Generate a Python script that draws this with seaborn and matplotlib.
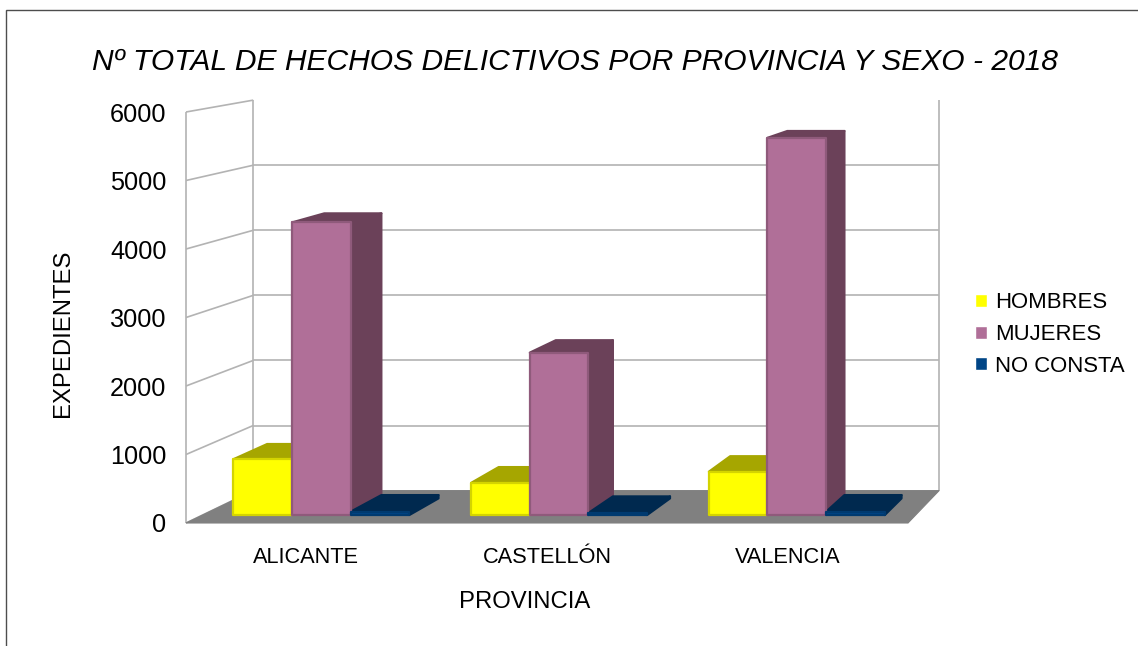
import matplotlib
matplotlib.use("Agg")
import matplotlib.pyplot as plt
import pandas as pd
import seaborn as sns
from matplotlib.patches import Polygon, Rectangle

provincias = ["ALICANTE", "CASTELLÓN", "VALENCIA"]
sexos = ["HOMBRES", "MUJERES", "NO CONSTA"]
hombres = [825, 475, 640]
mujeres = [4325, 2400, 5575]
no_consta = [50, 30, 50]
y_ticks = [0, 1000, 2000, 3000, 4000, 5000, 6000]

front_colors = ["#ffff00", "#b06f98", "#004586"]
edge_colors = ["#d4d400", "#8f5a7b", "#003a70"]
shade_colors = ["#a6a600", "#6b4159", "#00294f"]

W, H = 1138, 646
# fake perspective, everything goes towards this point (pixels, y down)
VP = (1530, -125)
K_WALL = 0.05
K_BAR_FRONT = 0.0123
K_BAR_DEPTH = 0.026

sns.set_theme(style="white", font="Liberation Sans")
plt.rcParams["font.family"] = ["Liberation Sans", "DejaVu Sans"]
plt.rcParams["text.color"] = "black"
plt.rcParams["xtick.color"] = "black"
plt.rcParams["ytick.color"] = "black"

df = pd.DataFrame({"provincia": provincias, "HOMBRES": hombres, "MUJERES": mujeres, "NO CONSTA": no_consta})
df = df.melt(id_vars="provincia", var_name="sexo", value_name="expedientes")


def shifted(px, k):
    return (px[0] + k * (VP[0] - px[0]), px[1] + k * (VP[1] - px[1]))


def axes_from_pixels(left, right, top, bottom):
    return fig.add_axes([left / W, 1 - bottom / H, (right - left) / W, (bottom - top) / H])


def back(ax, x, y, k):
    # data point -> same point pushed back in depth, in data coords
    dx, dy = ax.transData.transform((x, y))
    px = shifted((dx, H - dy), k)
    return ax.transData.inverted().transform((px[0], H - px[1]))


fig = plt.figure(figsize=(W / 100, H / 100), dpi=100)
fig.add_artist(Rectangle((6 / W, -0.1), 1.2, 1.1 - 10.5 / H, transform=fig.transFigure,
                         fill=False, edgecolor="#4d4d4d", linewidth=1.0))

wall_ax = axes_from_pixels(186, 908, 112, 523)
wall_ax.set_xlim(-0.5, 2.5)
wall_ax.set_ylim(0, 6000)
wall_ax.set_facecolor("none")
sns.despine(ax=wall_ax, left=True, bottom=True)

x0, x1 = -0.5, 2.5
floor = [(x0, 0), (x1, 0), back(wall_ax, x1, 0, K_WALL), back(wall_ax, x0, 0, K_WALL)]
wall_ax.add_patch(Polygon(floor, facecolor="#808080", edgecolor="#808080", lw=0.8, clip_on=False, zorder=2))
grid_kw = dict(color="#b3b3b3", lw=1.2, clip_on=False, zorder=1, solid_capstyle="butt")
for t in y_ticks:
    bl = back(wall_ax, x0, t, K_WALL)
    br = back(wall_ax, x1, t, K_WALL)
    wall_ax.plot([x0, bl[0]], [t, bl[1]], **grid_kw)
    if 0 < t < 6000:
        wall_ax.plot([bl[0], br[0]], [bl[1], br[1]], **grid_kw)
for x in [x0, x1]:
    b0 = back(wall_ax, x, 0, K_WALL)
    b1 = back(wall_ax, x, 6000, K_WALL)
    wall_ax.plot([b0[0], b1[0]], [b0[1], b1[1]], **grid_kw)
wall_ax.plot([x0, x0], [0, 6000], **grid_kw)

wall_ax.set_xticks(range(3))
wall_ax.set_xticklabels(provincias)
wall_ax.set_yticks(y_ticks)
wall_ax.tick_params(axis="y", labelsize=18.2, length=0, pad=14)
wall_ax.tick_params(axis="x", labelsize=15.7, length=0, pad=17)

bl = shifted((186, 523), K_BAR_FRONT)
tr = shifted((908, 112), K_BAR_FRONT)
bar_ax = axes_from_pixels(bl[0], tr[0], tr[1], bl[1])
sns.barplot(data=df, x="provincia", y="expedientes", hue="sexo", order=provincias, hue_order=sexos,
            palette=front_colors, width=0.74, saturation=1, ax=bar_ax)
bar_ax.set_xlim(-0.5, 2.5)
bar_ax.set_ylim(0, 6000)
bar_ax.set_facecolor("none")
bar_ax.axis("off")

for s, container in enumerate(bar_ax.containers):
    for bar in container:
        xa, xb = bar.get_x(), bar.get_x() + bar.get_width()
        top = bar.get_height()
        bar.set_edgecolor(edge_colors[s])
        bar.set_linewidth(1.6)
        bar.set_joinstyle("round")
        bar.set_zorder(3)
        bar.set_clip_on(False)
        tl_b = back(bar_ax, xa, top, K_BAR_DEPTH)
        tr_b = back(bar_ax, xb, top, K_BAR_DEPTH)
        br_b = back(bar_ax, xb, 0, K_BAR_DEPTH)
        for pts in ([(xa, top), (xb, top), tr_b, tl_b], [(xb, top), tr_b, br_b, (xb, 0)]):
            bar_ax.add_patch(Polygon(pts, facecolor=shade_colors[s], edgecolor=shade_colors[s], lw=1.6,
                                     joinstyle="round", clip_on=False, zorder=2))

sns.move_legend(bar_ax, "center left", bbox_to_anchor=(975 / W, 1 - 334.5 / H), bbox_transform=fig.transFigure,
                frameon=False, title=None, fontsize=15.9, handlelength=0.54, handleheight=0.54,
                handletextpad=0.36, labelspacing=0.48, borderpad=0, borderaxespad=0)

fig.text(575 / W, 1 - 62.5 / H, "Nº TOTAL DE HECHOS DELICTIVOS POR PROVINCIA Y SEXO - 2018",
         ha="center", va="center", fontsize=21.6, style="italic")
fig.text(63 / W, 1 - 333 / H, "EXPEDIENTES", ha="center", va="center", rotation=90, fontsize=17.2)
fig.text(525 / W, 1 - 602 / H, "PROVINCIA", ha="center", va="center", fontsize=17.2)
wall_ax.set_xlabel("")
wall_ax.set_ylabel("")

fig.savefig("out.png", dpi=100)
